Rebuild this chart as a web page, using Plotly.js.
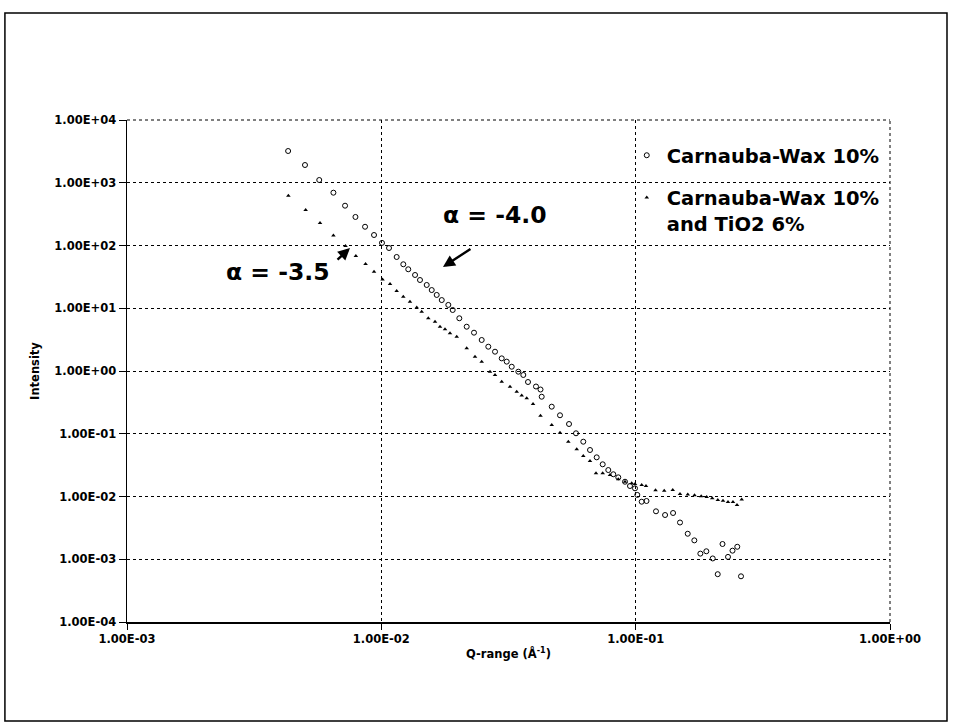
<!DOCTYPE html>
<html>
<head>
<meta charset="utf-8">
<script src="https://cdn.plot.ly/plotly-3.0.1.min.js"></script>
<style>
  html, body { margin: 0; padding: 0; background: #ffffff; }
  #chart { width: 955px; height: 727px; }
</style>
</head>
<body>
<div id="chart"></div>
<script>
// SAXS intensity versus scattering vector Q, log-log

// Carnauba-Wax 10%
const qWax = [0.00430,0.00501,0.00570,0.00648,0.00720,0.00791,0.00863,0.00936,0.01006,0.01072,
  0.01149,0.01220,0.01276,0.01357,0.01419,0.01508,0.01578,0.01651,0.01728,0.01834,
  0.01908,0.02026,0.02166,0.02314,0.02481,0.02634,0.02799,0.02974,0.03112,0.03256,
  0.03457,0.03616,0.03773,0.04056,0.04225,0.04271,0.04677,0.05041,0.05470,0.05827,
  0.06224,0.06614,0.07027,0.07419,0.07805,0.08167,0.08544,0.09080,0.09499,0.09940,
  0.1015,0.1056,0.1103,0.1202,0.1305,0.1403,0.1494,0.1602,0.1701,0.1796,
  0.1896,0.2009,0.2102,0.2195,0.2307,0.2403,0.2509,0.2595];
const iWax = [3206,1918,1106,694,431,285,199,147,110,91.2,
  65.6,50.2,41.8,33.9,28.2,23.5,19.5,16.3,13.5,11.3,
  9.38,6.92,5.08,4.08,3.12,2.44,2.03,1.59,1.41,1.17,
  0.975,0.864,0.668,0.566,0.507,0.389,0.270,0.197,0.143,0.1017,
  0.0747,0.0551,0.0421,0.0326,0.0264,0.0226,0.0202,0.0172,0.0147,0.0135,
  0.0106,0.00826,0.00848,0.00581,0.00507,0.00546,0.00385,0.00255,0.00200,0.00123,
  0.00134,0.00103,0.000578,0.00175,0.00109,0.00137,0.00158,0.000535];

// Carnauba-Wax 10% and TiO2 6%
const qWaxTiO2 = [0.00431,0.00504,0.00574,0.00648,0.00723,0.00794,0.00867,0.00936,0.01011,0.01082,
  0.01149,0.01220,0.01296,0.01378,0.01441,0.01530,0.01626,0.01701,0.01780,0.01862,
  0.01979,0.02166,0.02335,0.02481,0.02675,0.02799,0.02974,0.03206,0.03407,0.03564,
  0.03730,0.03949,0.04225,0.04677,0.05041,0.05435,0.05864,0.06224,0.06614,0.06983,
  0.07419,0.07927,0.08544,0.09080,0.09647,0.09940,0.1056,0.1098,0.1197,0.1295,
  0.1399,0.1494,0.1603,0.1704,0.1810,0.1902,0.2000,0.2104,0.2205,0.2307,
  0.2413,0.2503,0.2612];
const iWaxTiO2 = [622,368,228,144,98.2,68.0,50.7,38.2,28.7,24.3,
  18.8,15.3,12.7,10.3,8.81,6.92,6.11,5.08,4.62,3.99,
  3.52,2.30,1.69,1.41,0.975,0.864,0.675,0.562,0.468,0.407,
  0.367,0.298,0.193,0.138,0.104,0.0747,0.0565,0.0442,0.0368,0.0234,
  0.0234,0.0220,0.0188,0.0172,0.0162,0.0158,0.0152,0.0147,0.01256,0.01233,
  0.01270,0.01096,0.01076,0.01045,0.01011,0.00982,0.00936,0.00880,0.00854,0.00817,
  0.00817,0.00732,0.00893];

const seriesNames = ["Carnauba-Wax 10%", "Carnauba-Wax 10%<br>and TiO2 6%"];

// Tick positions and their labels
const xTickVals = [0.001, 0.01, 0.1, 1];
const xTickText = ["1.00E-03", "1.00E-02", "1.00E-01", "1.00E+00"];
const yTickVals = [1e4, 1e3, 1e2, 1e1, 1, 0.1, 0.01, 0.001, 0.0001];
const yTickText = ["1.00E+04", "1.00E+03", "1.00E+02", "1.00E+01", "1.00E+00",
                   "1.00E-01", "1.00E-02", "1.00E-03", "1.00E-04"];

// Power-law slope labels
const slopeLabels = ["α = -4.0", "α = -3.5"];

const FONT = "DejaVu Sans, Liberation Sans, Arial, sans-serif";
const INK = "#000000";
const GRID_DASH = "dot";

const traces = [
  {
    x: qWax, y: iWax, name: seriesNames[0],
    type: "scatter", mode: "markers",
    legendgroup: "a",
    marker: { symbol: "circle-open", size: 5, color: INK, line: { color: INK, width: 1 } }
  },
  {
    x: qWaxTiO2, y: iWaxTiO2, name: seriesNames[1],
    type: "scatter", mode: "markers",
    legendgroup: "b",
    marker: { symbol: "triangle-up", size: 4, color: INK, line: { width: 0 } }
  }
];

const tickFont = { family: FONT, size: 11.5, color: INK, weight: "bold" };

// dashed edge lines of the plotting area (top and right)
const edgeLine = { color: INK, width: 1, dash: GRID_DASH };

const layout = {
  width: 955,
  height: 727,
  margin: { l: 127, r: 65, t: 120, b: 105 },
  paper_bgcolor: "#ffffff",
  plot_bgcolor: "#ffffff",
  font: { family: FONT, color: INK },
  showlegend: true,
  legend: {
    x: 0.655, xanchor: "left",
    y: 0.968, yanchor: "top",
    bgcolor: "rgba(0,0,0,0)",
    borderwidth: 0,
    traceorder: "grouped",
    tracegroupgap: 14,
    valign: "top",
    font: { family: FONT, size: 19.5, color: INK, weight: "bold" },
    itemsizing: "trace"
  },
  xaxis: {
    type: "log",
    range: [-3, 0],
    tickmode: "array",
    tickvals: xTickVals,
    ticktext: xTickText,
    tickfont: tickFont,
    ticks: "outside",
    ticklen: 6,
    tickcolor: INK,
    showline: true,
    linecolor: INK,
    linewidth: 1.5,
    showgrid: true,
    gridcolor: INK,
    gridwidth: 1,
    griddash: GRID_DASH,
    zeroline: false,
    title: { text: "Q-range (Å<sup>-1</sup>)", font: { family: FONT, size: 11.5, color: INK, weight: "bold" }, standoff: 4 }
  },
  yaxis: {
    type: "log",
    range: [-4, 4],
    tickmode: "array",
    tickvals: yTickVals,
    ticktext: yTickText,
    tickfont: tickFont,
    ticks: "outside",
    ticklen: 7,
    tickcolor: INK,
    showline: true,
    linecolor: INK,
    linewidth: 1.5,
    showgrid: true,
    gridcolor: INK,
    gridwidth: 1,
    griddash: GRID_DASH,
    zeroline: false,
    title: { text: "Intensity", font: { family: FONT, size: 11.5, color: INK, weight: "bold" }, standoff: 12 }
  },
  shapes: [
    // white panel behind the legend, hiding the grid there
    { type: "rect", xref: "paper", yref: "paper", x0: 0.6527, x1: 0.999, y0: 0.753, y1: 0.999,
      fillcolor: "#ffffff", line: { width: 0 }, layer: "between" },
    // top and right edges of the plotting area
    { type: "line", xref: "paper", yref: "paper", x0: 0, x1: 1, y0: 1, y1: 1, line: edgeLine, layer: "between" },
    { type: "line", xref: "paper", yref: "paper", x0: 1, x1: 1, y0: 0, y1: 1, line: edgeLine, layer: "between" },
    // frame around the whole figure
    { type: "rect", xref: "paper", yref: "paper", x0: -0.160, x1: 1.0747, y0: -0.197, y1: 1.2131,
      fillcolor: "rgba(0,0,0,0)", line: { color: INK, width: 1.5 }, layer: "above" }
  ],
  annotations: [
    { xref: "paper", yref: "paper", x: 0.4820, y: 0.811, xanchor: "center", yanchor: "middle",
      text: slopeLabels[0], showarrow: false,
      font: { family: FONT, size: 23.5, color: INK, weight: "bold" } },
    { xref: "paper", yref: "paper", x: 0.1980, y: 0.697, xanchor: "center", yanchor: "middle",
      text: slopeLabels[1], showarrow: false,
      font: { family: FONT, size: 23.5, color: INK, weight: "bold" } },
    // arrows pointing at the fitted regions
    { xref: "paper", yref: "paper", x: 0.4141, y: 0.7072, ax: 29, ay: -19, text: "",
      showarrow: true, arrowhead: 2, arrowsize: 1, arrowwidth: 2.4, arrowcolor: INK },
    { xref: "paper", yref: "paper", x: 0.2923, y: 0.7450, ax: -14, ay: 13, text: "",
      showarrow: true, arrowhead: 2, arrowsize: 1, arrowwidth: 2.4, arrowcolor: INK }
  ]
};

Plotly.newPlot("chart", traces, layout, { displayModeBar: false, staticPlot: true });
</script>
</body>
</html>
